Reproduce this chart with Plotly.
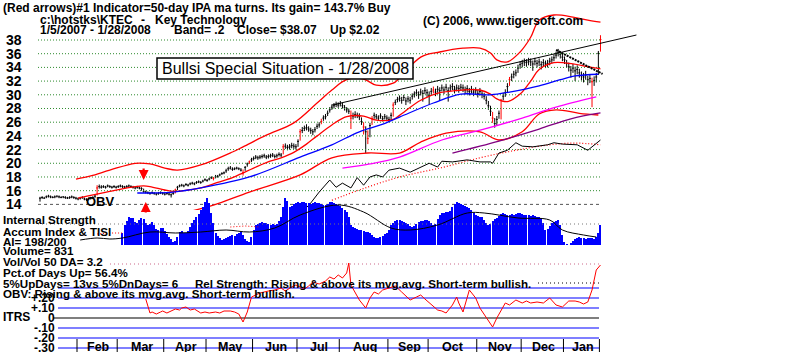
import plotly.graph_objects as go

W, H = 800, 352

# ---------------- data ----------------
close = [14.9, 15.0, 14.9, 15.1, 15.2, 15.1, 15.0, 15.1, 15.2, 15.1,
         15.0, 15.1, 15.0, 14.9, 15.0, 15.1, 15.0, 14.9, 14.8, 14.9,
         15.0, 14.8, 14.7, 14.8, 14.9, 15.0, 15.2, 16.4, 16.6, 16.5,
         16.6, 16.5, 16.7, 16.6, 16.5, 16.6, 16.5, 16.6, 16.7, 16.6,
         16.5, 16.6, 16.7, 16.6, 16.5, 16.4, 16.5, 16.4, 16.3, 15.9,
         15.8, 15.7, 15.6, 15.7, 15.6, 15.5, 15.6, 15.7, 15.6, 15.5,
         15.6, 15.5, 15.4, 15.6, 16.1, 16.5, 16.7, 16.8, 16.7, 16.9,
         16.8, 17.0, 17.1, 17.0, 17.2, 17.3, 17.2, 17.4, 17.6, 17.5,
         17.7, 17.9, 17.8, 18.0, 18.1, 18.3, 18.5, 18.6, 18.9, 19.2,
         19.3, 19.1, 19.2, 19.3, 19.2, 19.0, 18.6, 19.4, 19.9, 20.2,
         20.5, 20.7, 20.9, 20.8, 20.9, 21.0, 21.1, 20.9, 21.0, 21.1,
         21.2, 21.0, 21.1, 21.3, 21.2, 22.4, 22.5, 22.3, 22.4, 22.6,
         22.5, 22.4, 23.2, 24.6, 24.8, 25.1, 25.2, 25.0, 24.8, 24.6,
         24.9, 25.4, 25.6, 26.1, 26.6, 26.8, 27.3, 27.8, 28.2, 28.4,
         28.6, 28.5, 28.7, 28.4, 28.1, 27.8, 27.6, 26.6, 26.9, 27.1,
         27.0, 26.8, 26.1, 25.3, 24.6, 23.6, 25.5, 26.5, 27.0, 26.8,
         26.6, 26.9, 26.5, 26.8, 26.6, 26.4, 27.0, 28.5, 28.9, 29.3,
         29.5, 29.2, 29.6, 29.1, 29.4, 29.2, 29.8, 30.1, 30.3, 30.0,
         30.4, 30.2, 30.6, 30.3, 29.9, 30.5, 30.7, 30.4, 30.8, 30.6,
         31.0, 30.7, 31.1, 30.6, 31.0, 31.2, 30.8, 31.0, 30.9, 31.1,
         31.0, 30.7, 30.9, 30.5, 30.8, 30.4, 30.6, 30.2, 30.5, 30.1,
         29.8, 29.2, 28.4, 27.6, 26.6, 25.8, 26.4, 27.3, 29.2, 29.8,
         30.3, 31.2, 32.2, 32.6, 33.0, 33.2, 33.9, 34.4, 34.6, 34.8,
         34.7, 34.9, 34.8, 34.5, 34.9, 34.6, 34.8, 34.4, 34.7, 34.5,
         34.6, 34.9, 35.1, 35.4, 35.8, 36.2, 35.9, 35.5, 35.1, 34.6,
         34.1, 33.6, 33.9, 33.5, 33.7, 33.2, 32.8, 32.6, 32.9, 32.2,
         32.4, 31.9, 32.1, 32.6, 36.05, 38.07]

high = [15.1, 15.2, 15.1, 15.3, 15.4, 15.3, 15.2, 15.3, 15.3, 15.3,
        15.2, 15.2, 15.2, 15.1, 15.2, 15.3, 15.2, 15.1, 15.0, 15.1,
        15.2, 15.0, 14.9, 15.0, 15.1, 15.2, 15.4, 16.8, 16.9, 16.8,
        16.8, 16.7, 16.9, 16.8, 16.7, 16.8, 16.7, 16.8, 16.9, 16.8,
        16.7, 16.8, 16.9, 16.8, 16.7, 16.6, 16.7, 16.6, 16.5, 16.3,
        16.0, 15.9, 15.8, 15.9, 15.8, 15.7, 15.8, 15.9, 15.8, 15.7,
        15.8, 15.7, 15.6, 15.8, 16.3, 16.7, 16.9, 17.0, 16.9, 17.1,
        17.0, 17.2, 17.3, 17.2, 17.4, 17.5, 17.4, 17.6, 17.8, 17.7,
        17.9, 18.1, 18.0, 18.3, 18.3, 18.5, 18.7, 18.8, 19.2, 19.5,
        19.6, 19.4, 19.4, 19.5, 19.4, 19.3, 19.1, 19.6, 20.1, 20.4,
        20.8, 21.0, 21.2, 21.1, 21.2, 21.3, 21.4, 21.2, 21.3, 21.4,
        21.5, 21.3, 21.4, 21.6, 21.5, 22.8, 22.9, 22.7, 22.8, 23.0,
        22.9, 22.8, 23.5, 25.0, 25.3, 25.5, 25.7, 25.4, 25.2, 25.0,
        25.3, 25.8, 26.0, 26.5, 27.0, 27.2, 27.7, 28.2, 28.6, 28.8,
        29.0, 28.9, 29.1, 28.8, 28.5, 28.2, 28.0, 27.7, 27.4, 27.6,
        27.4, 27.3, 26.7, 26.0, 25.4, 24.8, 25.9, 26.9, 27.4, 27.2,
        27.0, 27.3, 26.9, 27.2, 27.0, 26.8, 27.4, 28.9, 29.3, 29.7,
        29.9, 29.7, 30.0, 29.6, 29.8, 29.7, 30.2, 30.5, 30.8, 30.5,
        30.9, 30.7, 31.1, 30.8, 30.5, 31.0, 31.2, 30.9, 31.3, 31.1,
        31.5, 31.2, 31.6, 31.1, 31.5, 31.7, 31.3, 31.5, 31.4, 31.6,
        31.5, 31.2, 31.4, 31.0, 31.3, 30.9, 31.1, 30.7, 31.0, 30.6,
        30.3, 29.8, 29.1, 28.4, 27.5, 26.6, 26.9, 27.7, 29.4, 30.3,
        30.8, 31.7, 32.6, 33.1, 33.5, 33.7, 34.4, 34.9, 35.1, 35.3,
        35.2, 35.4, 35.3, 35.0, 35.4, 35.1, 35.3, 34.9, 35.2, 35.0,
        35.1, 35.4, 35.6, 35.9, 36.3, 36.7, 36.4, 36.0, 35.6, 35.1,
        34.7, 34.2, 34.5, 34.1, 34.3, 33.8, 33.4, 33.2, 33.5, 32.8,
        33.0, 32.5, 32.7, 33.2, 36.4, 38.7]

low = [14.4, 14.8, 14.8, 14.9, 15.0, 14.9, 14.9, 14.9, 15.0, 14.9,
       14.9, 14.9, 14.8, 14.8, 14.8, 14.9, 14.8, 14.7, 14.6, 14.7,
       14.8, 14.6, 14.5, 14.6, 14.7, 14.8, 14.9, 15.3, 16.3, 16.3,
       16.4, 16.3, 16.5, 16.4, 16.3, 16.4, 16.3, 16.4, 16.5, 16.4,
       16.3, 16.4, 16.5, 16.4, 16.3, 16.2, 16.3, 16.2, 16.0, 15.7,
       15.6, 15.5, 15.4, 15.5, 15.4, 15.3, 15.4, 15.5, 15.4, 15.3,
       15.4, 15.3, 15.0, 15.4, 15.6, 16.1, 16.5, 16.6, 16.5, 16.7,
       16.6, 16.8, 16.9, 16.8, 17.0, 17.1, 17.0, 17.2, 17.4, 17.3,
       17.5, 17.7, 17.5, 17.8, 17.9, 18.1, 18.3, 18.4, 18.6, 18.9,
       19.1, 18.9, 19.0, 19.1, 19.0, 18.8, 18.2, 18.9, 19.5, 19.9,
       20.2, 20.4, 20.6, 20.5, 20.6, 20.7, 20.8, 20.6, 20.7, 20.8,
       20.9, 20.7, 20.8, 21.0, 20.9, 21.3, 22.1, 21.9, 22.0, 22.2,
       22.1, 22.0, 22.4, 23.3, 24.4, 24.7, 24.8, 24.6, 24.3, 24.1,
       24.5, 25.0, 25.2, 25.7, 26.2, 26.4, 26.9, 27.4, 27.8, 28.0,
       28.2, 28.1, 28.3, 28.0, 27.7, 27.4, 27.2, 25.0, 26.4, 26.6,
       26.6, 26.3, 25.6, 24.2, 21.5, 22.8, 23.8, 25.6, 26.5, 26.4,
       26.2, 26.5, 26.1, 26.4, 26.2, 26.0, 26.3, 26.8, 28.5, 28.9,
       29.0, 28.7, 29.1, 28.5, 28.9, 28.7, 29.3, 29.6, 29.8, 29.4,
       29.9, 29.0, 30.1, 29.7, 28.5, 30.0, 30.2, 29.8, 30.3, 29.1,
       30.5, 30.1, 30.6, 29.0, 30.5, 30.7, 30.2, 30.5, 30.3, 30.6,
       30.4, 30.1, 30.3, 29.9, 30.2, 29.8, 30.0, 29.6, 29.9, 29.5,
       29.3, 28.6, 27.8, 26.9, 25.9, 25.2, 25.6, 26.5, 26.4, 29.2,
       29.7, 30.3, 31.3, 32.0, 32.4, 32.7, 33.2, 33.8, 34.0, 34.2,
       34.1, 34.3, 34.2, 33.5, 34.3, 34.0, 34.2, 33.7, 34.1, 33.9,
       34.0, 34.3, 34.6, 34.9, 35.3, 35.6, 35.3, 34.9, 34.5, 34.0,
       33.4, 32.5, 33.2, 32.0, 33.0, 32.5, 32.1, 31.8, 32.2, 31.4,
       31.7, 28.2, 31.3, 31.8, 32.9, 36.3]

red_days = [27, 64, 82, 96, 99, 115, 123, 133, 147, 153, 155, 157, 167, 186,
            214, 218, 222, 261, 265]

ma21_days = [18, 33, 45, 49, 52, 59, 63, 70, 76, 84, 91, 96, 101, 107, 114, 120,
             126, 131, 138, 145, 153, 159, 167, 170, 180, 189, 200, 208, 213, 216,
             221, 227, 232, 236, 243, 252, 259, 265]
ma21 = [14.9, 15.9, 16.6, 16.7, 16.6, 16.1, 15.9, 16.1, 16.4, 17.2, 17.9, 18.6,
        19.3, 20.1, 20.8, 21.6, 22.8, 24.0, 25.6, 26.8, 26.9, 26.3, 26.4, 27.0,
        29.2, 30.3, 30.7, 30.7, 30.1, 29.4, 29.0, 30.1, 32.0, 33.7, 34.7, 34.5,
        34.1, 33.8]

upper_days = [17, 24, 33, 45, 52, 59, 65, 76, 91, 96, 107, 120, 131, 138, 145,
              153, 159, 167, 170, 180, 189, 200, 208, 213, 216, 221, 227, 232,
              236, 243, 252, 259, 265]
upper = [17.7, 18.15, 19.0, 20.0, 19.9, 19.3, 19.0, 19.75, 21.65, 22.4, 24.1,
         25.9, 28.8, 30.7, 32.2, 32.3, 31.4, 31.7, 32.45, 35.5, 36.25, 36.8,
         36.8, 36.1, 35.1, 34.8, 36.25, 38.4, 40.9, 41.65, 41.35, 40.9, 40.6]

lower_days = [70, 82, 99, 123, 138, 155, 170, 180, 192, 208, 217, 228, 236, 244,
              255, 264]
lower = [12.9, 13.9, 15.8, 18.3, 20.8, 21.5, 21.5, 23.1, 24.4, 24.6, 23.4,
         24.6, 27.2, 27.8, 27.3, 27.05]

ma50_days = [46, 63, 76, 99, 123, 138, 151, 161, 170, 186, 199, 213, 222, 236,
             246, 253, 264]
ma50 = [15.66, 15.8, 16.4, 18.0, 20.9, 22.7, 24.6, 25.6, 26.75, 28.8, 30.1,
        30.0, 30.4, 31.3, 32.2, 32.75, 33.0]

ma150_days = [143, 156, 170, 190, 209, 228, 244, 263]
ma150 = [19.3, 19.9, 20.9, 23.4, 24.9, 26.6, 28.2, 29.7]

ma200_days = [195, 217, 236, 251, 265]
ma200 = [21.5, 23.25, 25.0, 26.5, 27.35]

obv_days = [125, 128, 132, 137, 140, 143, 147, 150, 153, 156, 159, 162, 165,
            170, 175, 180, 184, 188, 190, 195, 202, 208, 213, 214, 217, 221,
            225, 228, 233, 240, 243, 247, 254, 259, 261, 265]
obv = [13.2, 14.2, 15.8, 17.55, 16.5, 17.1, 16.4, 17.9, 16.8, 18.0, 18.3,
       18.0, 19.0, 19.3, 18.7, 19.45, 20.0, 19.45, 20.3, 20.2, 20.5, 20.2,
       20.2, 20.0, 21.5, 21.9, 23.0, 22.5, 22.4, 22.7, 23.0, 22.8, 22.7,
       21.9, 22.4, 23.4]

obvma_days = [138, 151, 170, 189, 208, 225, 241, 253, 265]
obvma = [14.6, 16.1, 18.0, 19.3, 20.8, 21.9, 22.7, 22.95, 22.7]

trend_days = [138, 282]
trend = [28.5, 38.73]
trend2_days = [244, 266]
trend2 = [36.54, 33.04]

accum_first_day = 39
accum = [12, 20, 24, 28, 27, 27,
         23, 22, 25, 27, 26, 22,
         20, 21, 23, 20, 16, 15,
         17, 17, 14, 11, 8, 6,
         3, 4, 8, 13, 14, 12,
         12, 14, 18, 22, 25, 28,
         31, 35, 38, 43, 47, 42,
         32, 22, 12, 9, 7, 5,
         6, 7, 8, 9, 10, 9,
         11, 12, 13, 10, 6, 4,
         3, 8, 15, 20, 21, 22,
         23, 22, 22, 21, 20, 21,
         20, 21, 24, 28, 38, 47,
         44, 38, 39, 41, 42, 43,
         42, 43, 43, 42, 42, 41,
         42, 43, 42, 42, 41, 40,
         40, 41, 43, 43, 42, 41,
         40, 39, 37, 35, 33, 28,
         20, 18, 17, 16, 15, 15,
         14, 13, 13, 12, 10, 8,
         7, 7, 8, 9, 11, 12,
         15, 20, 22, 24, 25, 25,
         24, 23, 22, 21, 19, 18,
         19, 21, 23, 24, 24, 25,
         25, 24, 22, 20, 21, 26,
         30, 32, 32, 33, 33, 34,
         38, 41, 43, 42, 41, 40,
         39, 38, 37, 35, 32, 30,
         29, 28, 28, 25, 22, 20,
         21, 24, 26, 27, 29, 31,
         32, 31, 30, 30, 31, 30,
         31, 32, 32, 31, 30, 30,
         30, 29, 30, 29, 28, 28,
         27, 22, 15, 16, 19, 22,
         23, 24, 25, 20, 10, 3,
         1, 0, 2, 4, 6, 7,
         8, 7, 7, 6, 7, 7,
         7, 6, 8, 12, 20]

accum_ma_days = [19, 27, 33, 39, 52, 64, 76, 88, 99, 111, 123, 141, 153, 166,
                 175, 188, 202, 210, 226, 241, 247, 257, 263]
accum_ma = [5, 7, 6, 7, 13, 12, 13, 15, 13, 17, 30, 40, 33, 17, 15, 20, 32, 32,
            27, 25, 15, 10, 8]

tisi_days = [27, 33, 39, None, 90, 97, 104]
tisi = [11, 12, 12, None, 18, 19, 18]

itrs_days = [50, 52, 53, 55, 57, 58, 60, 62, 64, 66, 67, 69, 71, 73, 76, 78, 80,
             83, 85, 87, 90, 92, 94, 96, 98, 100, 104, 108, 111, 114, 116, 119,
             121, 123, 125, 127, 129, 132, 135, 137, 139, 141, 143, 145, 146,
             147, 149, 151, 154, 156, 158, 160, 162, 165, 168, 171, 173, 175,
             178, 180, 182, 184, 186, 188, 190, 192, 195, 197, 198, 200, 203,
             206, 208, 211, 214, 216, 218, 220, 222, 225, 228, 230, 232, 235,
             238, 241, 244, 247, 250, 253, 255, 257, 259, 261, 263, 265]
itrs = [.19, .05, .06, .04, .06, .07, .05, .07, .09, .08, .10, .11, .08, .09,
        .05, .06, .05, .06, .05, .07, .07, .06, .04, -.04, .06, .21, .25, .27,
        .28, .30, .27, .31, .33, .31, .29, .32, .36, .34, .37, .41, .39, .43,
        .40, .45, .55, .33, .25, .18, .10, .20, .26, .24, .28, .30, .32, .26,
        .22, .18, .21, .23, .19, .15, .12, .08, .07, .05, .13, .21, .15, .06,
        .28, .20, .10, .00, -.09, .00, .08, .15, .13, .18, .15, .17, .15, .16,
        .15, .20, .13, .11, .17, .17, .16, .14, .16, .28, .48, .53]

price_ticks = [38, 36, 34, 32, 30, 28, 26, 24, 22, 20, 18, 16, 14]
itrs_ticks = [0.2, 0.1, 0.0, -0.1, -0.2, -0.3]
itrs_tick_text = ["+.20", "+.10", "0", "-.10", "-.20", "-.30"]
months = ["Feb", "Mar", "Apr", "May", "Jun", "Jul", "Aug", "Sep", "Oct", "Nov",
          "Dec", "Jan"]
month_start = [18, 37, 59, 79, 101, 122, 142, 165, 184, 207, 228, 248]
last_day = 265

# ---------------- geometry helpers ----------------
def day_at(px):
    return (px - 40) / 2.115

X_LEFT, X_RIGHT = 38, 640
FONT = "Liberation Sans"

fig = go.Figure()

# price gridlines
gx, gy = [], []
for lv in price_ticks[:-1]:
    gx += [day_at(38), day_at(600), None]
    gy += [lv, lv, None]
fig.add_trace(go.Scatter(x=gx, y=gy, mode="lines", yaxis="y",
                         line=dict(color="#2e8b2e", width=1, dash="1px,2px")))
fig.add_trace(go.Scatter(x=[day_at(38), day_at(600)], y=[14, 14], mode="lines",
                         yaxis="y", line=dict(color="#555555", width=1, dash="3px,3px")))

# moving averages & bands
def add_line(xs, ys, color, width=1, dash=None, axis="y", shape="spline"):
    fig.add_trace(go.Scatter(x=xs, y=ys, mode="lines", yaxis=axis,
                             line=dict(color=color, width=width, dash=dash,
                                       shape=shape), connectgaps=False))

add_line(upper_days, upper, "#ff0000", 1.3)
add_line(lower_days, lower, "#ff0000", 1.3)
add_line(ma21_days, ma21, "#ff0000", 1.3)
add_line(ma50_days, ma50, "#0000ff", 1.3)
add_line(ma150_days, ma150, "#ff00ff", 1.3)
add_line(ma200_days, ma200, "#800080", 1.3)
add_line(obvma_days, obvma, "#ff0000", 1.2, dash="1px,2px")
add_line(obv_days, obv, "#000000", 1, shape="linear")
add_line(trend_days, trend, "#000000", 1, shape="linear")
add_line(trend2_days, trend2, "#000000", 2, dash="2px,1px", shape="linear")

# price bars
days = list(range(len(close)))
blk = [d for d in days if d not in red_days]
for sel, col in ((blk, "#000000"), (red_days, "#ff0000")):
    fig.add_trace(go.Ohlc(x=sel, open=[close[d] for d in sel],
                          high=[high[d] for d in sel], low=[low[d] for d in sel],
                          close=[close[d] for d in sel], yaxis="y", tickwidth=0.45,
                          increasing=dict(line=dict(color=col, width=1)),
                          decreasing=dict(line=dict(color=col, width=1))))

# accumulation histogram panel
fig.add_trace(go.Scatter(x=[day_at(38), day_at(600)], y=[21, 21], mode="lines",
                         yaxis="y2", line=dict(color="#777777", width=1, dash="1px,3px")))
accum_days = list(range(accum_first_day, accum_first_day + len(accum)))
fig.add_trace(go.Bar(x=accum_days, y=accum, yaxis="y2", width=0.5,
                     marker=dict(color="#0000ff", line=dict(width=0))))
add_line(accum_ma_days, accum_ma, "#000000", 1, axis="y2")
add_line(tisi_days, tisi, "#ff0000", 1, dash="1px,2px", axis="y2", shape="linear")

# ITRS panel
lx, ly = [], []
for lv in (0.3, 0.2, 0.1, -0.1, -0.2, -0.3):
    lx += [day_at(58), day_at(599), None]
    ly += [lv, lv, None]
fig.add_trace(go.Scatter(x=lx, y=ly, mode="lines", yaxis="y3",
                         line=dict(color="#0000ff", width=1.2)))
fig.add_trace(go.Scatter(x=[day_at(53), day_at(599)], y=[0, 0], mode="lines",
                         yaxis="y3", line=dict(color="#000000", width=1.2)))
fig.add_trace(go.Scatter(x=[day_at(110), day_at(600)], y=[0.54, 0.54], mode="lines",
                         yaxis="y3", line=dict(color="#cc6688", width=1, dash="1px,3px")))
fig.add_trace(go.Scatter(x=[day_at(538), day_at(600)], y=[0.35, 0.35], mode="lines",
                         yaxis="y3", line=dict(color="#000000", width=1, dash="1px,3px")))
add_line(itrs_days, itrs, "#ff0000", 1, axis="y3", shape="linear")

# month separators
mx, my = [], []
for d in month_start + [last_day]:
    mx += [d - 0.5, d - 0.5, None]
    my += [-0.21, -0.34, None]
fig.add_trace(go.Scatter(x=mx, y=my, mode="lines", yaxis="y3",
                         line=dict(color="#000000", width=1)))

# ---------------- annotations ----------------
ann = []
def txt(s, x, y, size=11.6, bold=True, anchor="left", color="black"):
    ann.append(dict(text=f"<b>{s}</b>" if bold else s, x=x / W, y=1 - y / H,
                    xref="paper", yref="paper", xanchor=anchor, yanchor="middle",
                    showarrow=False, font=dict(size=size, color=color, family=FONT)))

txt("(Red arrows)#1 Indicator=50-day IPA ma turns. Its gain= 143.7% Buy", 1, 8, 12)
txt("c:\\hotstks\\KTEC", 38, 20, 12)
txt("-", 139, 20, 12)
txt("Key Technology", 153, 20, 12)
txt("1/5/2007 - 1/28/2008", 38, 30, 12)
txt("Band= .2", 172, 30, 12)
txt("Close= $38.07", 235, 30, 12)
txt("Up $2.02", 328, 30, 12)
txt("(C) 2006, www.tigersoft.com", 421, 21, 12)

txt("Internal Strength", 1, 219)
txt("Accum Index & TISI", 1, 231)
txt("AI= 198/200", 1, 241)
txt("Volume= 831", 1, 251)
txt("Vol/Vol 50 DA= 3.2", 1, 261)
txt("Pct.of Days Up= 56.4%", 1, 272)
txt("5%UpDays= 13vs 5%DnDays= 6", 1, 283)
txt("Rel Strength: Rising & above its mvg.avg. Short-term bullish.", 193, 283)
txt("OBV: Rising & above its mvg.avg. Short-term bullish.", 1, 293)
txt("ITRS", 1, 317, 12)
txt("OBV", 84, 201, 13)

for t in price_ticks:
    ann.append(dict(text=f"<b>{t}</b>", x=4 / W, y=t, xref="paper", yref="y",
                    xanchor="left", yanchor="middle", showarrow=False,
                    font=dict(size=14, color="black", family=FONT)))
for v, s in zip(itrs_ticks, itrs_tick_text):
    ann.append(dict(text=f"<b>{s}</b>", x=57 / W, y=v, xref="paper", yref="y3",
                    xanchor="right", yanchor="middle", showarrow=False,
                    font=dict(size=12, color="black", family=FONT)))
ends = month_start[1:] + [last_day]
for m, a, b in zip(months, month_start, ends):
    ann.append(dict(text=f"<b>{m}</b>", x=(a + b) / 2, y=-0.285, xref="x", yref="y3",
                    xanchor="center", yanchor="middle", showarrow=False,
                    font=dict(size=12.5, color="black", family=FONT)))

# red signal arrows
ann.append(dict(x=49, y=17.56, xref="x", yref="y", text="", showarrow=True,
                ax=0, ay=-13, arrowhead=2, arrowsize=0.9, arrowwidth=2.2,
                arrowcolor="#ff0000"))
ann.append(dict(x=50, y=14.35, xref="x", yref="y", text="", showarrow=True,
                ax=0, ay=12, arrowhead=2, arrowsize=0.9, arrowwidth=2.2,
                arrowcolor="#ff0000"))

# boxed caption
ann.append(dict(text="Bullsi Special Situation - 1/28/2008", x=285 / W, y=1 - 68.5 / H,
                xref="paper", yref="paper", xanchor="center", yanchor="middle",
                showarrow=False, font=dict(size=16, color="black", family=FONT)))

shapes = [dict(type="rect", xref="paper", yref="paper", x0=157 / W, x1=413 / W,
               y0=1 - 79 / H, y1=1 - 58 / H, line=dict(color="black", width=1.5),
               fillcolor="white", layer="above")]

fig.update_layout(
    width=W, height=H, margin=dict(l=0, r=0, t=0, b=0),
    paper_bgcolor="white", plot_bgcolor="rgba(0,0,0,0)", showlegend=False,
    annotations=ann, shapes=shapes, bargap=0,
    xaxis=dict(domain=[X_LEFT / W, X_RIGHT / W], range=[day_at(X_LEFT), day_at(X_RIGHT)],
               visible=False, rangeslider=dict(visible=False), fixedrange=True),
    yaxis=dict(domain=[1 - 210 / H, 1], range=[38 - 170 / 6.849, 38 + 40 / 6.849],
               visible=False, anchor="x"),
    yaxis2=dict(domain=[1 - 250 / H, 1 - 195 / H], range=[-5, 50], visible=False,
                anchor="x"),
    yaxis3=dict(domain=[0, 1 - 255 / H], range=[-0.34, 0.63], visible=False,
                anchor="x"),
)

fig.write_html("out.html")
